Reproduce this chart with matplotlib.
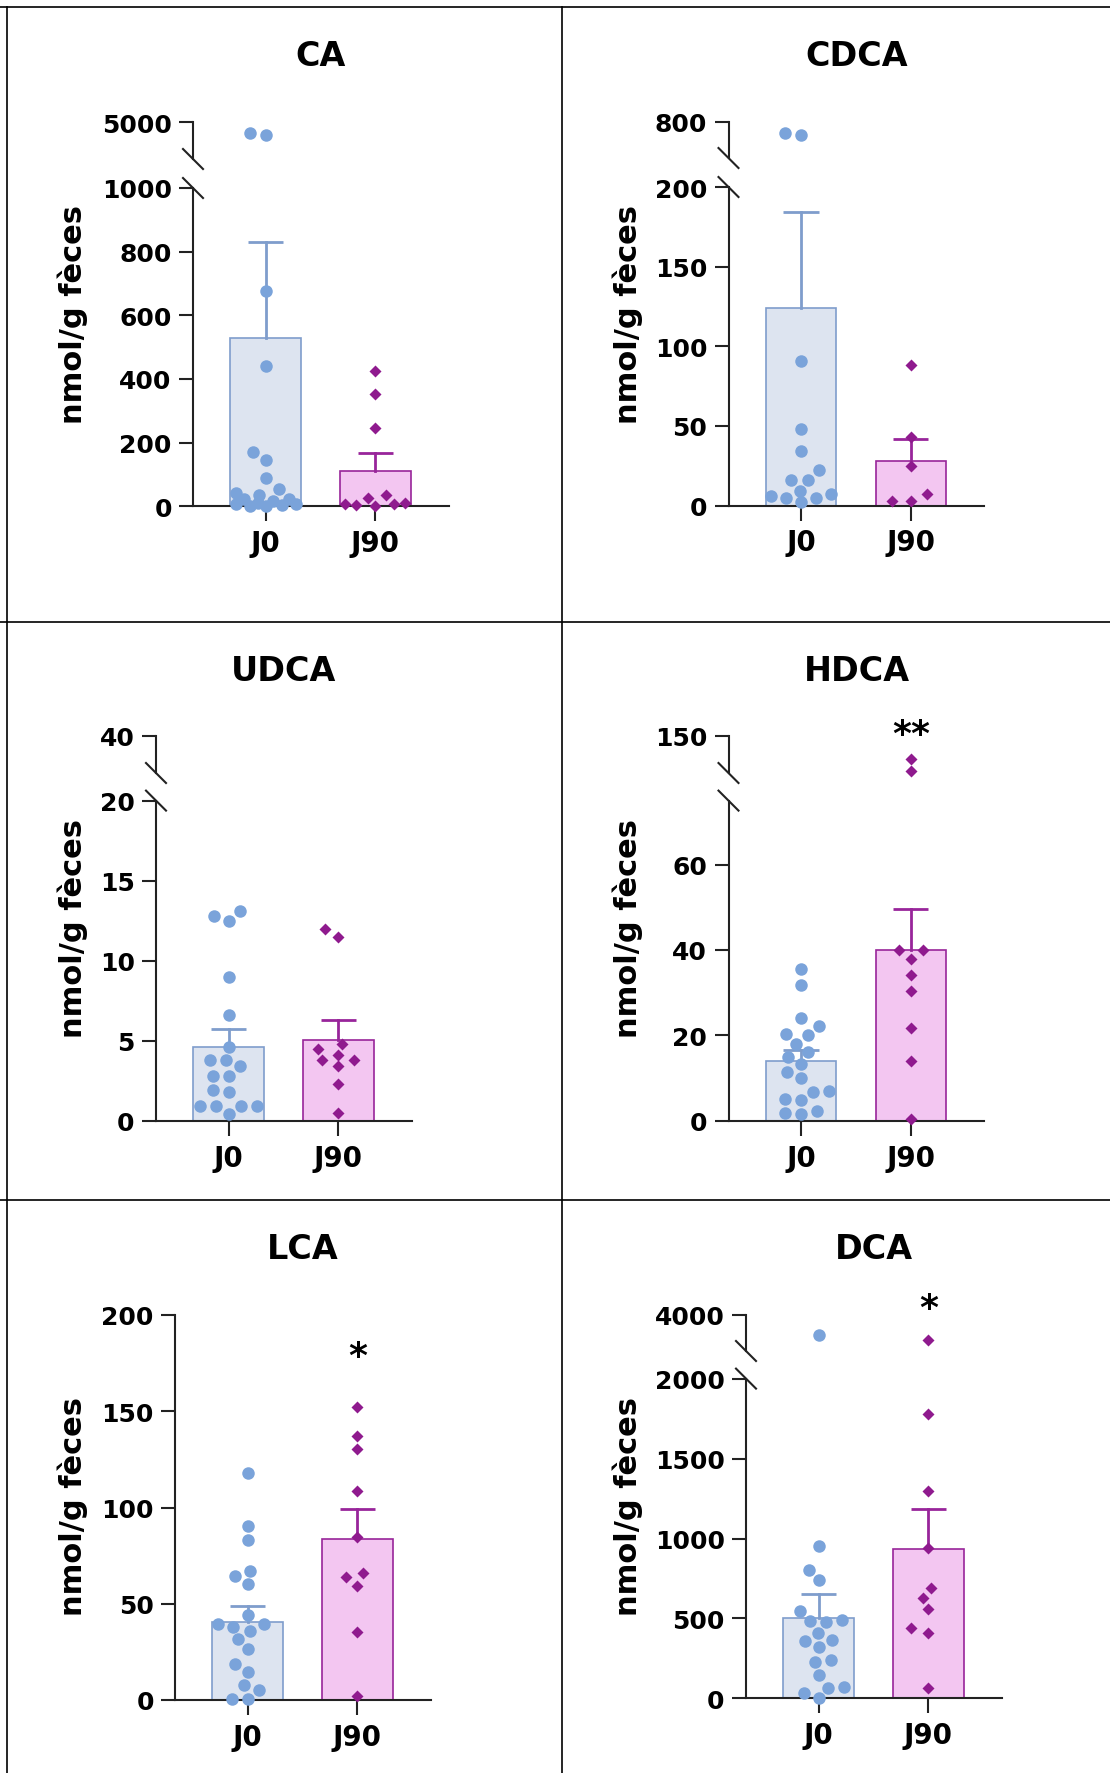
import numpy as np
import matplotlib
matplotlib.use("Agg")
from matplotlib import pyplot as plt

# values (nmol/g feces)
names = ["CA", "CDCA", "UDCA", "HDCA", "LCA", "DCA"]
groups = ["J0", "J90"]

ca_j0 = [4110, 4250, 675, 440, 170, 145, 90, 53, 43, 35, 22, 22, 18, 10, 6, 6, 4, 2, 0]
ca_j90 = [425, 354, 245, 37, 26, 10, 8, 6, 4, 1]
cdca_j0 = [729, 740, 91, 48, 34, 22, 16, 16, 9, 5, 5, 7, 6, 2]
cdca_j90 = [88, 43, 25, 7, 3, 3]
udca_j0 = [13.1, 12.5, 12.8, 9.0, 6.6, 4.6, 3.8, 3.8, 3.4, 2.8, 2.8, 1.8, 1.9, 0.9, 0.9, 0.9, 0.9, 0.4]
udca_j90 = [11.5, 12.0, 4.5, 3.8, 4.1, 4.8, 3.8, 3.4, 2.3, 0.5]
hdca_j0 = [35.5, 31.8, 24.1, 22.2, 20.4, 20.0, 18.0, 16.0, 14.9, 13.2, 11.4, 9.9, 7.0, 6.8, 4.8, 5.1, 2.2, 1.6, 1.8]
hdca_j90 = [103, 79, 40, 40, 37.9, 34.2, 30.5, 21.8, 14.0, 0.3]
lca_j0 = [117.7, 90.2, 82.9, 66.8, 64.3, 60.1, 44.1, 39.3, 39.3, 38, 36.1, 31.7, 26.3, 18.6, 14.4, 7.7, 5.2, 0.4, 0.6]
lca_j90 = [152, 136.9, 130.3, 108.4, 84.5, 66.2, 63.9, 59.1, 35.1, 2.3]
dca_j0 = [2884, 951, 801, 738, 546, 481, 477, 493, 407, 366, 361, 319, 227, 238, 148, 72, 67, 32, 0]
dca_j90 = [2614, 1778, 1294, 940, 692, 627, 558, 438, 407, 65]

means = {"CA": (528, 111), "CDCA": (124, 28), "UDCA": (4.6, 5.05),
         "HDCA": (14, 40), "LCA": (40.7, 83.5), "DCA": (505, 935)}
sems = {"CA": (301, 56), "CDCA": (60, 14), "UDCA": (1.1, 1.25),
        "HDCA": (2.6, 9.7), "LCA": (8.3, 15.7), "DCA": (150, 252)}
points = {"CA": (ca_j0, ca_j90), "CDCA": (cdca_j0, cdca_j90), "UDCA": (udca_j0, udca_j90),
          "HDCA": (hdca_j0, hdca_j90), "LCA": (lca_j0, lca_j90), "DCA": (dca_j0, dca_j90)}

# axis ranges / ticks (lower segment, upper segment after the break)
lower_lim = {"CA": 1000, "CDCA": 200, "UDCA": 20, "HDCA": 75, "LCA": 200, "DCA": 2000}
lower_ticks = {"CA": [0, 200, 400, 600, 800, 1000], "CDCA": [0, 50, 100, 150, 200],
               "UDCA": [0, 5, 10, 15, 20], "HDCA": [0, 20, 40, 60],
               "LCA": [0, 50, 100, 150, 200], "DCA": [0, 500, 1000, 1500, 2000]}
upper_lim = {"CA": (2500, 5000), "CDCA": (600, 800), "UDCA": (20, 40),
             "HDCA": (75, 150), "DCA": (2000, 4000)}
stars = {"HDCA": ("**", 155), "LCA": ("*", 178.5), "DCA": ("*", 4380)}

# layout in pixels: axis x, zero y, lower top y, upper top y, upper bottom y, cell left, cell top
W, H = 1110, 1774
layout = {
    "CA": (193, 507.3, 189, 123.4, 160, 7, 8),
    "CDCA": (728.5, 506.5, 188, 122.6, 159, 562, 8),
    "UDCA": (156, 1121.7, 801.6, 737, 774, 7, 622.5),
    "HDCA": (728.5, 1121.7, 801.6, 737, 774, 562, 622.5),
    "LCA": (175, 1701, 1316, None, None, 7, 1200.5),
    "DCA": (746, 1699.4, 1379.6, 1315.8, 1352, 562, 1200.5),
}
AX_W = 256
XLIM = (-0.66, 1.67)

bar_c = ["#dde4f0", "#f3c6f1"]
edge_c = ["#7f9dcc", "#98259a"]
pt_c = ["#7aa3da", "#8f1a8e"]
axis_c = "#222222"

fig = plt.figure(figsize=(W / 100, H / 100), dpi=100)


def add_ax(x, ytop, w, h):
    return fig.add_axes([x / W, 1 - (ytop + h) / H, w / W, h / H])


def style(ax):
    for s in ["top", "right"]:
        ax.spines[s].set_visible(False)
    for s in ["left", "bottom"]:
        ax.spines[s].set_linewidth(1.5)
        ax.spines[s].set_color(axis_c)
        ax.spines[s].set_capstyle("projecting")
    ax.patch.set_alpha(0)
    ax.tick_params(axis="y", length=10.3, width=1.5, color=axis_c, pad=5, labelsize=18)
    for lab in ax.get_yticklabels():
        lab.set_fontweight("bold")


def swarm(ys, sx, sy, lim):
    # beeswarm in pixel space (elliptic spacing sx, sy), kept inside +-lim
    order = np.argsort(ys)
    xs = np.zeros(len(ys))
    cands = np.arange(-lim, lim + 0.01, 0.5)
    placed = []
    for i in order:
        y = ys[i]
        pen = np.zeros(len(cands))
        for px, py in placed:
            r = np.hypot((cands - px) / sx, (y - py) / sy)
            pen += np.clip(1 - r, 0, None) ** 2
        score = np.round(pen, 4) * 1e5 + np.abs(cands) + 1e-3 * cands
        xs[i] = cands[np.argmin(score)]
        placed.append((xs[i], y))
    return xs


# overlay for table borders and axis breaks
ov = fig.add_axes([0, 0, 1, 1], zorder=10)
ov.set_xlim(0, W)
ov.set_ylim(H, 0)
ov.axis("off")
ov.patch.set_alpha(0)
for yy in [8, 622.5, 1200.5]:
    ov.plot([0, W], [yy, yy], color="black", lw=1.2)
for xx in [7, 562]:
    ov.plot([xx, xx], [8, H], color="black", lw=1.2)

for name in names:
    axx, y0, ylt, yut, yub, cl, ct = layout[name]
    low = add_ax(axx, ylt, AX_W, y0 - ylt)
    low.set_xlim(*XLIM)
    low.set_ylim(0, lower_lim[name])
    low.set_yticks(lower_ticks[name])
    low.set_xticks([0, 1])
    low.set_xticklabels(groups, fontsize=20, fontweight="bold")
    style(low)
    low.tick_params(axis="x", length=10.5, width=1.5, color=axis_c, pad=6)

    up = None
    if yut is not None:
        up = add_ax(axx, yut, AX_W, yub - yut)
        up.set_xlim(*XLIM)
        up.set_ylim(*upper_lim[name])
        up.set_yticks([upper_lim[name][1]])
        up.set_xticks([])
        style(up)
        up.spines["bottom"].set_visible(False)
        for yy in [yub, ylt]:
            ov.plot([axx - 10, axx + 10], [yy - 10, yy + 10], color=axis_c, lw=1.5)

    for g in range(2):
        m, e = means[name][g], sems[name][g]
        low.bar([g], [m], width=0.64, color=bar_c[g], edgecolor=edge_c[g],
                linewidth=1.2, zorder=2)
        low.plot([g, g], [m, m + e], color=edge_c[g], lw=2, zorder=3)
        low.plot([g - 0.16, g + 0.16], [m + e, m + e], color=edge_c[g], lw=2,
                 zorder=3, solid_capstyle="butt")

        vals = np.array(points[name][g], dtype=float)
        in_up = np.zeros(len(vals), bool)
        if up is not None:
            in_up = vals > lower_lim[name]
        ypx = np.array([(up if u else low).transData.transform((g, v))[1]
                        for v, u in zip(vals, in_up)])
        if g == 0:
            offs = swarm(ypx, 16.0, 13.0, 30)
        else:
            offs = swarm(ypx, 19.0, 11.5, 30)
        x0px = low.transData.transform((g, 0))[0]
        for v, u, o in zip(vals, in_up, offs):
            ax = up if u else low
            xd = ax.transData.inverted().transform((x0px + o, 0))[0]
            if g == 0:
                ax.plot(xd, v, "o", ms=9, color=pt_c[0], mec="none", zorder=5,
                        clip_on=False)
            else:
                ax.plot(xd, v, "D", ms=6.4, color=pt_c[1], mec="none", zorder=5,
                        clip_on=False)

    if name in stars:
        s, sv = stars[name]
        ax = up if up is not None else low
        ax.text(1, sv, s, ha="center", va="center", fontsize=26, fontweight="bold",
                clip_on=False)

    fig.text((axx + AX_W / 2) / W, 1 - (ct + 49) / H, name, ha="center", va="center",
             fontsize=24, fontweight="bold")
    fig.text((cl + 66) / W, 1 - (ct + 306) / H, "nmol/g fèces", rotation=90,
             ha="center", va="center", fontsize=22, fontweight="bold")

fig.savefig("out.png", dpi=100)
